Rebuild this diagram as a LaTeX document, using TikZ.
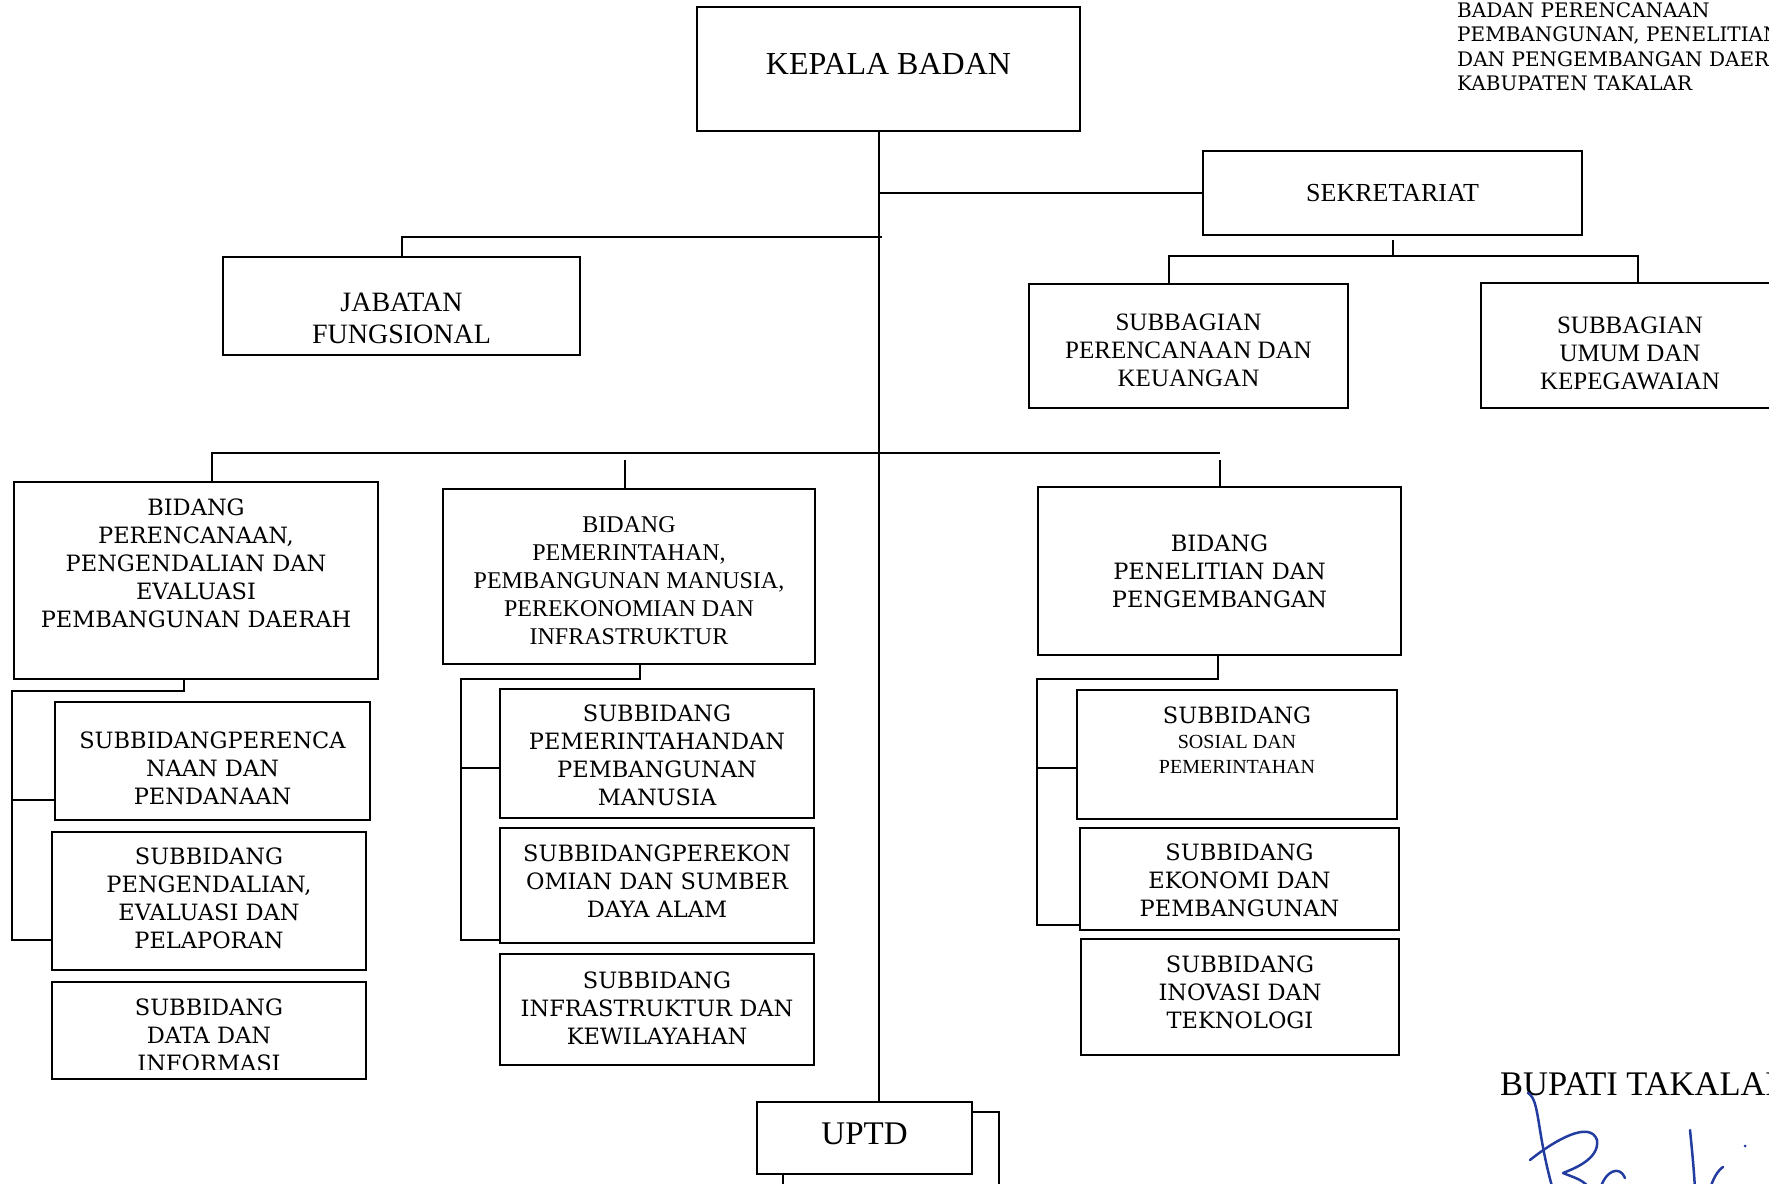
\documentclass[tikz,border=0pt]{standalone}
\usepackage{fontspec}
\setmainfont{Liberation Serif}
\newfontfamily\bookfont{DejaVu Serif}
\usetikzlibrary{calc,positioning}

\definecolor{inkblue}{RGB}{35,60,160}

\tikzset{
  box/.style={draw, line width=2pt, inner sep=0pt},
  link/.style={line width=2pt},
  bk/.style={align=center, inner sep=0pt, font=\bookfont\fontsize{22.5}{28}\selectfont},
  tm/.style={align=center, inner sep=0pt, font=\fontsize{25}{28}\selectfont},
  sign/.style={inkblue, line width=2.5pt, line cap=round, line join=round}
}

\begin{document}
\begin{tikzpicture}[x=1pt,y=1pt]
        % Page frame
        \useasboundingbox (0,0) rectangle (1769,-1183);
        \fill[white] (0,0) rectangle (1769,-1183);
        \clip (0,0) rectangle (1769,-1183);
        % Head of the office and secretariat
        \node[box, minimum width=383pt, minimum height=124pt] (kb) at (888.5,-69) {};
        \node[tm, font=\fontsize{32}{36}\selectfont, yshift=5pt] (kb-t) at (kb) {KEPALA BADAN};
        \node[box, minimum width=379pt, minimum height=84pt] (sek) at (1392.5,-193) {};
        \node[tm, font=\fontsize{26}{28}\selectfont] (sek-t) at (sek) {SEKRETARIAT};
        \node[box, minimum width=357pt, minimum height=98pt] (jab) at (401.5,-306) {};
        \node[tm, font=\fontsize{28}{32}\selectfont, yshift=-12pt] (jab-t) at (jab) {JABATAN\\FUNGSIONAL};
        \node[box, minimum width=319pt, minimum height=124pt] (sbp) at (1188.5,-346) {};
        \node[tm, yshift=-4pt] (sbp-t) at (sbp) {SUBBAGIAN\\PERENCANAAN DAN\\KEUANGAN};
        \node[box, minimum width=298pt, minimum height=125pt] (sbu) at (1630,-345.5) {};
        \node[tm, yshift=-7.5pt] (sbu-t) at (sbu) {SUBBAGIAN\\UMUM DAN\\KEPEGAWAIAN};
        % Bidang boxes
        \node[box, minimum width=364pt, minimum height=197pt] (bpe) at (196,-580.5) {};
        \node[bk, yshift=17.5pt] (bpe-t) at (bpe) {BIDANG\\PERENCANAAN,\\PENGENDALIAN DAN\\EVALUASI\\PEMBANGUNAN DAERAH};
        \node[box, minimum width=372pt, minimum height=175pt] (bpm) at (629,-576.5) {};
        \node[tm, font=\fontsize{24}{28}\selectfont, yshift=-4.5pt] (bpm-t) at (bpm) {BIDANG\\PEMERINTAHAN,\\PEMBANGUNAN MANUSIA,\\PEREKONOMIAN DAN\\INFRASTRUKTUR};
        \node[box, minimum width=363pt, minimum height=168pt] (bpl) at (1219.5,-571) {};
        \node[bk] (bpl-t) at (bpl) {BIDANG\\PENELITIAN DAN\\PENGEMBANGAN};
        % Subbidang, left column
        \node[box, minimum width=315pt, minimum height=118pt] (sp1) at (212.5,-761) {};
        \node[bk, yshift=-7.5pt] (sp1-t) at (sp1) {SUBBIDANGPERENCA\\NAAN DAN\\PENDANAAN};
        \node[box, minimum width=314pt, minimum height=138pt] (sp2) at (209,-901) {};
        \node[bk, yshift=2.5pt] (sp2-t) at (sp2) {SUBBIDANG\\PENGENDALIAN,\\EVALUASI DAN\\PELAPORAN};
        \node[box, minimum width=314pt, minimum height=97pt] (sp3) at (209,-1030.5) {};
        \begin{scope}
          \clip (sp3.north west) rectangle ($(sp3.south east)+(0,11)$);
          \node[bk, yshift=-4.5pt] (sp3-t) at (sp3) {SUBBIDANG\\DATA DAN\\INFORMASI};
        \end{scope}
        % Subbidang, middle column
        \node[box, minimum width=314pt, minimum height=129pt] (sm1) at (657,-753.5) {};
        \node[bk, yshift=-2pt] (sm1-t) at (sm1) {SUBBIDANG\\PEMERINTAHANDAN\\PEMBANGUNAN\\MANUSIA};
        \node[box, minimum width=314pt, minimum height=115pt] (sm2) at (657,-885.5) {};
        \node[bk, yshift=4.5pt] (sm2-t) at (sm2) {SUBBIDANGPEREKON\\OMIAN DAN SUMBER\\DAYA ALAM};
        \node[box, minimum width=314pt, minimum height=111pt] (sm3) at (657,-1009.5) {};
        \node[bk, yshift=1.5pt] (sm3-t) at (sm3) {SUBBIDANG\\INFRASTRUKTUR DAN\\KEWILAYAHAN};
        % Subbidang, right column
        \node[box, minimum width=320pt, minimum height=129pt] (sr1) at (1237,-754.5) {};
        \node[tm, font=\fontsize{20}{25}\selectfont, yshift=14pt] (sr1-t) at (sr1) {{\bookfont\fontsize{22.5}{25}\selectfont SUBBIDANG}\\SOSIAL DAN\\PEMERINTAHAN};
        \node[box, minimum width=319pt, minimum height=102pt] (sr2) at (1239.5,-879) {};
        \node[bk, yshift=-1.5pt] (sr2-t) at (sr2) {SUBBIDANG\\EKONOMI DAN\\PEMBANGUNAN};
        \node[box, minimum width=318pt, minimum height=116pt] (sr3) at (1240,-997) {};
        \node[bk, yshift=4.5pt] (sr3-t) at (sr3) {SUBBIDANG\\INOVASI DAN\\TEKNOLOGI};
        % UPTD
        \node[box, minimum width=215pt, minimum height=72pt] (uptd) at (864.5,-1138) {};
        \node[tm, font=\fontsize{33}{36}\selectfont, yshift=4pt] (uptd-t) at (uptd) {UPTD};
        % Main trunk and branches
        \coordinate (top) at ($(kb.south)+(-9.5,0)$);
        \draw[link] (top) -- (top |- uptd.north);
        \draw[link] (sek.west) -- (sek.west -| top);
        \coordinate (jabj) at ($(top)+(3,-105)$);
        \draw[link] (jab.north) |- (jabj);
        \coordinate (sekbar) at ($(sek.south)+(0.5,-20)$);
        \draw[link] ($(sek.south)+(0.5,-4)$) -- (sekbar);
        \draw[link] ($(sbp.north)+(-19.5,0)$) |- (sekbar);
        \draw[link] ($(sbu.north)+(8,0)$) |- (sekbar);
        \coordinate (bar) at ($(top)+(0,-321)$);
        \draw[link] ($(bpe.north)+(16,0)$) |- (bpl.north |- bar);
        \draw[link] ($(bpm.north)+(-4,0)$) -- ($(bpm.north |- bar)+(-4,-7)$);
        \draw[link] (bpl.north) -- ($(bpl.north |- bar)+(0,-7)$);
        % Brackets to the subbidang
        \draw[link] ($(bpe.south)+(-12,0)$) -- ++(0,-11) -| ($(sp2.west)+(-39,-39)$) -- ($(sp2.west)+(0,-39)$);
        \draw[link] ($(sp1.west)+(0,-39)$) -- ++(-42,0);
        \draw[link] ($(bpm.south)+(11,0)$) -- ++(0,-14) -| ($(sm2.west)+(-38,-54.5)$) -- ($(sm2.west)+(0,-54.5)$);
        \draw[link] ($(sm1.west)+(0,-14.5)$) -- ++(-38,0);
        \draw[link] ($(bpl.south)+(-1.5,0)$) -- ++(0,-23) -| ($(sr2.west)+(-42,-46)$) -- ($(sr2.west)+(0,-46)$);
        \draw[link] ($(sr1.west)+(0,-13.5)$) -- ++(-39,0);
        % Lines leaving UPTD
        \coordinate (uptd-r) at (999,-1190);
        \coordinate (uptd-d) at (783,-1190);
        \draw[link] ($(uptd.east)+(0,26)$) -| (uptd-r);
        \draw[link] ($(uptd.south)+(-81.5,0)$) -- (uptd-d);
        % Heading and signature
        \node[align=left, anchor=north west, inner sep=0pt, font=\bookfont\fontsize{20}{24.5}\selectfont] (hdr) at (1457,-2) {BADAN PERENCANAAN\\PEMBANGUNAN, PENELITIAN\\DAN PENGEMBANGAN DAERAH\\KABUPATEN TAKALAR};
        \node[anchor=base west, inner sep=0pt, font=\fontsize{34.5}{38}\selectfont] (bupati) at (1500,-1095) {BUPATI TAKALAR};
        \draw[sign] (1528,-1093) .. controls (1540,-1100) and (1536,-1130) .. (1553,-1190);
        \draw[sign] (1530,-1160) .. controls (1555,-1140) and (1590,-1120) .. (1597,-1140) .. controls (1600,-1160) and (1570,-1170) .. (1563,-1173) .. controls (1575,-1178) and (1585,-1180) .. (1590,-1190);
        \draw[sign] (1600,-1190) .. controls (1605,-1170) and (1620,-1165) .. (1625,-1178);
        \draw[sign] (1690,-1130) .. controls (1692,-1150) and (1694,-1170) .. (1695,-1190);
        \draw[sign] (1710,-1190) .. controls (1712,-1180) and (1718,-1170) .. (1723,-1167);
        \fill[inkblue] (1745,-1146) circle (1.5);
    \end{tikzpicture}
\end{document}
